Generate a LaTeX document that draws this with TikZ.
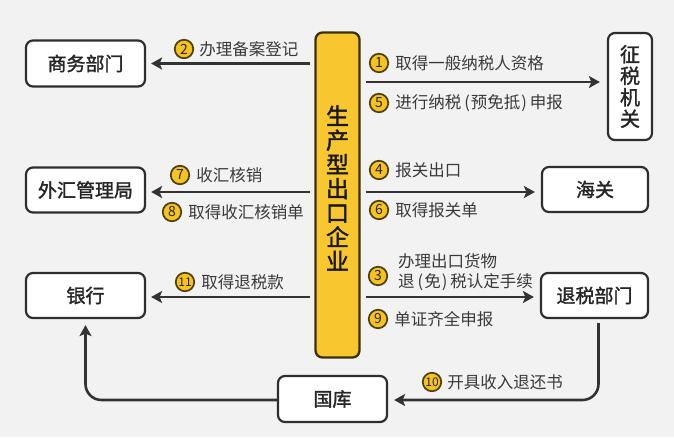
\documentclass[tikz,border=0pt]{standalone}
\usepackage{fontspec}
\setmainfont{Noto Sans CJK SC}
\newfontfamily\cjkb[FakeBold=1.6]{Noto Sans CJK SC}
\usetikzlibrary{arrows.meta,positioning}
\definecolor{bg}{HTML}{F2F2F2}
\definecolor{linec}{HTML}{333333}
\definecolor{boxline}{HTML}{2E2E2E}
\definecolor{txt}{HTML}{3A3A3A}
\definecolor{yel}{HTML}{F8C62E}
\definecolor{entline}{HTML}{3B3012}
\definecolor{numfill}{HTML}{F5C21F}
\definecolor{numline}{HTML}{4E4014}
\newcommand{\lp}{\hspace{3pt}(\hspace{1pt}}
\newcommand{\rp}{\hspace{1pt})\hspace{3pt}}
\tikzset{
  box/.style={draw=boxline, line width=2.2pt, fill=white, rounded corners=7pt, text=black!85,
    font=\cjkb\fontsize{19}{19}\selectfont, inner sep=0pt},
  ent/.style={draw=entline, line width=2.3pt, fill=yel, rounded corners=7pt},
  enttext/.style={align=center, text=black!90, font=\cjkb\fontsize{23}{24.2}\selectfont, inner sep=0pt},
  arr/.style={draw=linec, line width=2.6pt, -{Stealth[length=11pt,width=12pt,inset=2.5pt]}, shorten >=5pt},
  num/.style={circle, draw=numline, line width=1.7pt, fill=numfill, minimum size=18.5pt, inner sep=0pt,
    text=black!85, font=\fontsize{14}{14}\selectfont},
  numtwo/.style={num, font=\fontsize{12}{12}\selectfont},
  lbl/.style={text=txt, font=\fontsize{16.5}{20}\selectfont, inner sep=0pt, anchor=west},
}
\begin{document}
\begin{tikzpicture}[x=1pt,y=-1pt]
\fill[bg] (0,0) rectangle (674,437);
\useasboundingbox (0,0) rectangle (674,437);

% central enterprise
\node[ent, minimum width=44pt, minimum height=325pt] (ent) at (337.5,195) {};
\node[enttext] (entt) at (337.5,188) {生\\产\\型\\出\\口\\企\\业};

% boxes
\node[box, minimum width=119pt, minimum height=46pt] (sw) at (85.5,63.5) {商务部门};
\node[box, minimum width=119pt, minimum height=45pt] (wh) at (85.5,190) {外汇管理局};
\node[box, minimum width=119pt, minimum height=45pt] (bank) at (85.5,295.5) {银行};
\node[box, minimum width=109pt, minimum height=46pt] (gk) at (332.5,399) {国库};
\node[box, minimum width=44pt, minimum height=107pt, align=center,
      font=\cjkb\fontsize{20}{21.5}\selectfont] (tax) at (630,86.5) {征\\税\\机\\关};
\node[box, minimum width=106pt, minimum height=45pt] (hg) at (595,189.5) {海关};
\node[box, minimum width=107pt, minimum height=45pt] (tui) at (594.5,295.5) {退税部门};

% arrows left
\draw[arr, shorten <=4pt] (ent.west |- sw.east) -- (sw.east);
\draw[arr, shorten <=4pt] (ent.west |- 0,192) -- (wh.east |- 0,192);
\draw[arr, shorten <=4pt] (ent.west |- 0,297) -- (bank.east |- 0,297);
% arrows right
\draw[arr, shorten <=5pt, shorten >=7pt] (ent.east |- 0,82) -- (tax.west |- 0,82);
\draw[arr, shorten <=5pt, shorten >=6pt] (ent.east |- 0,192) -- (hg.west |- 0,192);
\draw[arr, shorten <=5pt, shorten >=6pt] (ent.east |- 0,297) -- (tui.west |- 0,297);
% bottom loop
\draw[arr, rounded corners=16pt, shorten <=4pt, shorten >=6pt] ([xshift=4pt]tui.south) -- ([xshift=4pt]tui.south |- 0,400) -- (gk.east |- 0,400);
\draw[arr, rounded corners=16pt, shorten >=6pt] (gk.west |- 0,400) -- (bank.south |- 0,400) -- (bank.south);

% labels
\node[num] (c2) at (184,49) {2};
\node[lbl, right=5pt of c2] (t2) {办理备案登记};
\node[num] (c7) at (180,175) {7};
\node[lbl, right=6pt of c7] (t7) {收汇核销};
\node[num] (c8) at (172,212) {8};
\node[lbl, right=6pt of c8] (t8) {取得收汇核销单};
\node[numtwo] (c11) at (185,282) {11};
\node[lbl, right=6pt of c11] (t11) {取得退税款};

\node[num] (c1) at (379,63) {1};
\node[lbl, right=6pt of c1] (t1) {取得一般纳税人资格};
\node[num] (c5) at (379,103) {5};
\node[lbl, right=6pt of c5] (t5) {进行纳税\lp 预免抵\rp 申报};
\node[num] (c4) at (379,170) {4};
\node[lbl, right=6pt of c4] (t4) {报关出口};
\node[num] (c6) at (379,210) {6};
\node[lbl, right=6pt of c6] (t6) {取得报关单};
\node[num] (c3) at (378,276) {3};
\node[lbl, align=left] (t3) at (398,272) {办理出口货物\\退\lp 免\rp 税认定手续};
\node[num] (c9) at (378,319) {9};
\node[lbl, right=6pt of c9] (t9) {单证齐全申报};
\node[numtwo] (c10) at (432,382) {10};
\node[lbl, right=5pt of c10] (t10) {开具收入退还书};
\end{tikzpicture}
\end{document}
